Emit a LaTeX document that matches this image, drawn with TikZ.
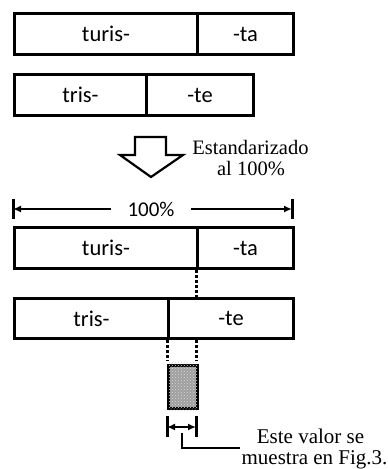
\documentclass[tikz,border=0pt]{standalone}
\usepackage{fontspec}
\setmainfont{Liberation Serif}
\newfontfamily\calfont{Carlito}
\usetikzlibrary{arrows.meta,patterns,calc}
\begin{document}
\begin{tikzpicture}[x=1pt,y=-1pt,
  cell/.style={draw,line width=3pt,anchor=north west,inner sep=0pt,minimum height=41pt,font=\calfont\fontsize{22.5}{22.5}\selectfont},
  thk/.style={line width=3pt},
  dots/.style={line width=3pt,dash pattern=on 2.5pt off 2.5pt},
  dimarrow/.style={line width=2.2pt,{Latex[length=8pt,width=7pt]}-{Latex[length=8pt,width=7pt]}},
  serif/.style={font=\fontsize{20.5}{21}\selectfont,inner sep=0pt,anchor=base}]
\useasboundingbox (0,0) rectangle (388,469);
% top boxes
\node[cell,minimum width=183pt] (c1a) at (13,12) {turis-};
\node[cell,minimum width=96pt] (c1b) at (196,12) {-ta};
\node[cell,minimum width=132pt] (c2a) at (13,73) {tris-};
\node[cell,minimum width=107pt] (c2b) at (145,73) {-te};
% block arrow
\draw[line width=2.2pt,line join=miter] (135,137) -- (166,137) -- (166,155) -- (183,155) -- (151,177) -- (120,155) -- (135,155) -- cycle;
\node[serif] (e1) at (250.5,154) {Estandarizado};
\node[serif] (e2) at (251,175) {al 100\%};
% dimension 100%
\coordinate (dl) at (13,209);
\coordinate (dr) at (292,209);
\draw[thk] (13,199) -- (13,219);
\draw[thk] (292,199) -- (292,219);
\node[font=\calfont\fontsize{21}{21}\selectfont,inner xsep=16pt,inner ysep=0pt] (p100) at (151,209) {100\%};
\draw[line width=2.2pt,-{Latex[length=8pt,width=7pt]}] (p100.west) -- (dl);
\draw[line width=2.2pt,-{Latex[length=8pt,width=7pt]}] (p100.east) -- (dr);
% standardized boxes
\node[cell,minimum width=183pt] (c3a) at (13,226) {turis-};
\node[cell,minimum width=96pt] (c3b) at (196,226) {-ta};
\node[cell,minimum width=154pt,minimum height=40pt] (c4a) at (13,297) {tris-};
\node[cell,minimum width=125pt,minimum height=40pt] (c4b) at (167,297) {-te};
\draw[dots] (c3b.south west) -- (c3b.south west |- c4b.north);
% shaded difference
\node[draw,line width=3pt,fill=gray!75,inner sep=0pt,minimum width=29pt,minimum height=43pt,anchor=north west] (sh) at (167,364) {};
\fill[pattern=crosshatch dots,pattern color=white!70!gray] ([shift={(1.5pt,-1.5pt)}]sh.south west) rectangle ([shift={(-1.5pt,1.5pt)}]sh.north east);
\coordinate (dotend) at (0,361);
\draw[dots] (c4b.south west) -- (c4b.south west |- dotend);
\draw[dots] (c3b.south west |- c4b.south) -- (c3b.south west |- dotend);
% small dimension
\draw[thk] (167,416) -- (167,437);
\draw[thk] (196,416) -- (196,437);
\coordinate (sl) at (167,427);
\coordinate (sr) at (196,427);
\draw[dimarrow] (sl) -- (sr);
\coordinate (la) at (182,433);
\coordinate (lb) at (240,448);
\draw[line width=2.2pt] (la) |- (lb);
\node[serif,font=\fontsize{21}{21}\selectfont] (t1) at (310.5,443) {Este valor se};
\node[serif,font=\fontsize{21}{21}\selectfont] (t2) at (314.5,464) {muestra en Fig.3.};
\end{tikzpicture}
\end{document}
